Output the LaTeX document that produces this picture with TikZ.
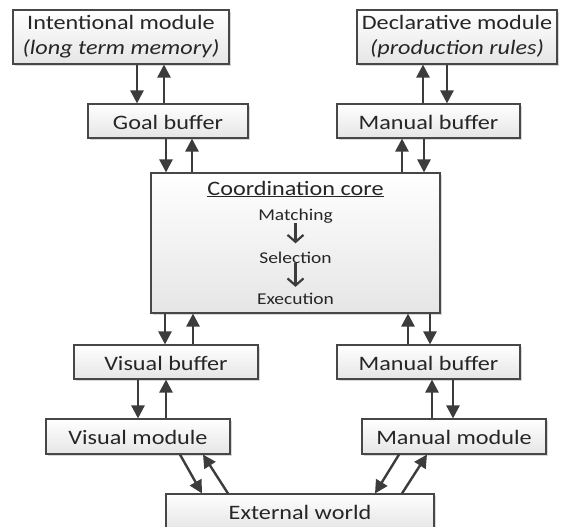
\documentclass[tikz,border=0pt]{standalone}
\usepackage{fontspec}
\setmainfont{Carlito}[FakeStretch=1.18]
\usetikzlibrary{arrows.meta,shadows}
\definecolor{ink}{HTML}{262626}
\definecolor{edge}{HTML}{474747}
\definecolor{arrowc}{HTML}{3C3C3C}

\begin{document}
\begin{tikzpicture}[x=1pt,y=-1pt,
  box/.style={draw=edge, line width=1.1pt, top color=white, bottom color=black!10,
    drop shadow={shadow xshift=2pt, shadow yshift=-2pt, fill=black!30, opacity=0.5},
    text=ink, font=\fontsize{20.5}{25}\selectfont, inner sep=0pt, align=center},
  sbox/.style={box, text height=16pt, text depth=0pt},
  label/.style={text=ink, inner sep=0pt, anchor=base},
  link/.style={draw=arrowc, line width=2.4pt, -{Triangle[length=13pt,width=13pt]}},
  flow/.style={draw=arrowc, line width=2.2pt, -{Straight Barb[length=7pt,width=16pt]}}
]
\useasboundingbox (0,0) rectangle (563,527);

% modules and buffers
\node[box, minimum width=216pt, minimum height=54pt] (intent) at (121,37)
  {Intentional module\\\textit{(long term memory)}};
\node[box, minimum width=200pt, minimum height=54pt] (decl) at (457,37)
  {Declarative module\\\textit{(production rules)}};
\node[sbox, minimum width=160pt, minimum height=34pt] (goal) at (168,121) {Goal buffer};
\node[sbox, minimum width=183pt, minimum height=34pt] (mbufT) at (428.5,121) {Manual buffer};
\node[box, minimum width=289pt, minimum height=140pt] (core) at (295.5,243) {};
\node[sbox, minimum width=184pt, minimum height=34pt] (vbuf) at (166,362) {Visual buffer};
\node[sbox, minimum width=183pt, minimum height=34pt] (mbufB) at (428.5,362) {Manual buffer};
\node[sbox, minimum width=184pt, minimum height=35pt] (vmod) at (138,436.5) {Visual module};
\node[sbox, minimum width=184pt, minimum height=35pt] (mmod) at (454,436.5) {Manual module};
\node[sbox, minimum width=268pt, minimum height=34pt] (ext) at (300,511) {External world};

% contents of the coordination core
\node[label, font=\fontsize{20.5}{25}\selectfont] (title) at (295.5,195) {\underline{Coordination core}};
\node[label, font=\fontsize{16.5}{20}\selectfont] (match) at (295.5,220) {Matching};
\node[label, font=\fontsize{16.5}{20}\selectfont] (select) at (295.5,263) {Selection};
\node[label, font=\fontsize{16.5}{20}\selectfont] (exec) at (295.5,304) {Execution};
\draw[flow, shorten >=8pt] (match.south) -- (select.north);
\draw[flow, shorten >=5.5pt] (select.south) -- (exec.north);

% links between modules, buffers and the core
\draw[link] ([xshift=16pt]intent.south) -- ([xshift=-31pt]goal.north);
\draw[link] ([xshift=-4pt]goal.north) -- ([xshift=43pt]intent.south);
\draw[link] ([xshift=-2pt]goal.south) -- ([xshift=-129.5pt]core.north);
\draw[link] ([xshift=-103.5pt]core.north) -- ([xshift=24pt]goal.south);
\draw[link] ([xshift=-10pt]decl.south) -- ([xshift=18.5pt]mbufT.north);
\draw[link] ([xshift=-5.5pt]mbufT.north) -- ([xshift=-34pt]decl.south);
\draw[link] ([xshift=-4.5pt]mbufT.south) -- ([xshift=128.5pt]core.north);
\draw[link] ([xshift=106.5pt]core.north) -- ([xshift=-26.5pt]mbufT.south);
\draw[link] ([xshift=-130.5pt]core.south) -- ([xshift=-1pt]vbuf.north);
\draw[link] ([xshift=27pt]vbuf.north) -- ([xshift=-102.5pt]core.south);
\draw[link] ([xshift=134.5pt]core.south) -- ([xshift=1.5pt]mbufB.north);
\draw[link] ([xshift=-20.5pt]mbufB.north) -- ([xshift=112.5pt]core.south);
\draw[link] ([xshift=-28pt]vbuf.south) -- (vmod.north);
\draw[link] ([xshift=28pt]vmod.north) -- (vbuf.south);
\draw[link] ([xshift=24.5pt]mbufB.south) -- ([xshift=-1pt]mmod.north);
\draw[link] ([xshift=-22pt]mmod.north) -- ([xshift=3.5pt]mbufB.south);
\draw[link] ([xshift=42pt]vmod.south) -- ([xshift=-98pt]ext.north);
\draw[link] ([xshift=-72pt]ext.north) -- ([xshift=65pt]vmod.south);
\draw[link] ([xshift=-55pt]mmod.south) -- ([xshift=75pt]ext.north);
\draw[link] ([xshift=102pt]ext.north) -- ([xshift=-27pt]mmod.south);
\end{tikzpicture}
\end{document}
